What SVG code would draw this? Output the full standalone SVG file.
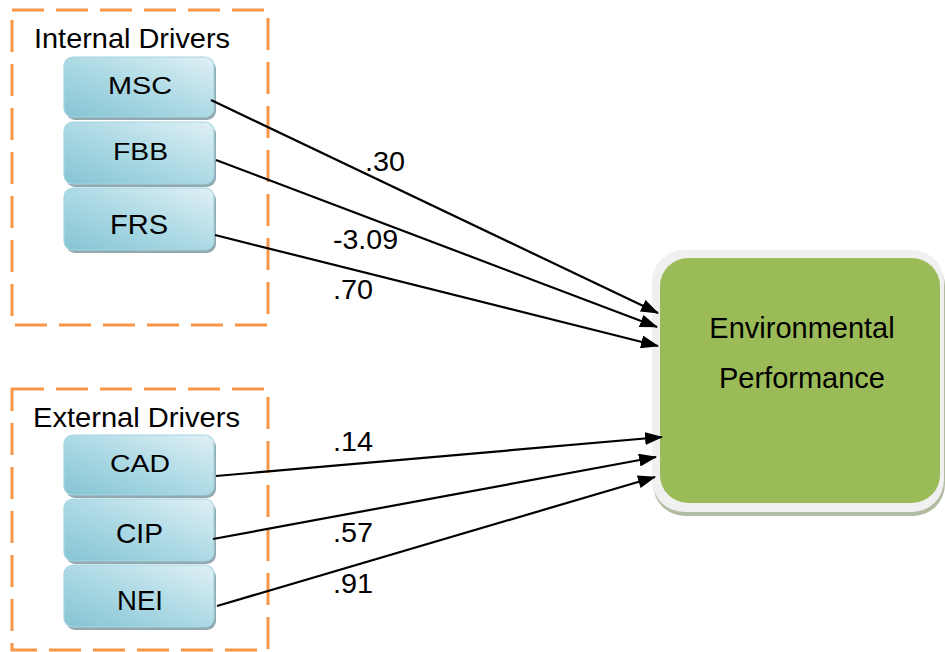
<svg xmlns="http://www.w3.org/2000/svg" width="945" height="652" viewBox="0 0 945 652">
<defs>
<linearGradient id="nodeGrad" x1="0" y1="1" x2="1" y2="0">
<stop offset="0" stop-color="#86c4d4"/>
<stop offset="0.5" stop-color="#addae5"/>
<stop offset="1" stop-color="#e0f0f5"/>
</linearGradient>
<marker id="arrow" markerUnits="userSpaceOnUse" markerWidth="18" markerHeight="13" refX="17" refY="6.5" orient="auto">
<path d="M0,0 L18,6.5 L0,13 z" fill="#000"/>
</marker>
<style>
.grp { fill: none; stroke: #f79646; stroke-width: 3; stroke-dasharray: 32 12; }
.shadow { fill: #93a9b1; }
.node { fill: url(#nodeGrad); stroke: #a3d5e2; stroke-width: 1.2; }
.lbl { font-family: "Liberation Sans", Arial, sans-serif; fill: #000; }
.nl { font-family: "Liberation Sans", Arial, sans-serif; fill: #000; text-anchor: middle; }
.edge { stroke: #000; stroke-width: 2.2; fill: none; marker-end: url(#arrow); }
</style>
</defs>
<rect width="945" height="652" fill="#fff"/>

<g id="internal-group">
<rect class="grp" x="12" y="10" width="256" height="315"/>
<text class="lbl" x="34" y="48" font-size="28.5" textLength="196" lengthAdjust="spacingAndGlyphs">Internal Drivers</text>
</g>
<g id="external-group">
<rect class="grp" x="12" y="389" width="256" height="261"/>
<text class="lbl" x="33" y="427" font-size="28.5" textLength="207" lengthAdjust="spacingAndGlyphs">External Drivers</text>
</g>

<g id="node-MSC">
<rect class="shadow" x="66" y="60" width="150" height="60" rx="9"/>
<rect class="node" x="64" y="57" width="150" height="60" rx="9"/>
<text class="nl" x="140" y="94" font-size="24" textLength="64" lengthAdjust="spacingAndGlyphs">MSC</text>
</g>
<g id="node-FBB">
<rect class="shadow" x="66" y="125" width="150" height="62" rx="9"/>
<rect class="node" x="64" y="122" width="150" height="62" rx="9"/>
<text class="nl" x="140.5" y="160" font-size="23" textLength="55" lengthAdjust="spacingAndGlyphs">FBB</text>
</g>
<g id="node-FRS">
<rect class="shadow" x="66" y="191" width="150" height="62" rx="9"/>
<rect class="node" x="64" y="188" width="150" height="62" rx="9"/>
<text class="nl" x="139" y="234" font-size="28" textLength="58" lengthAdjust="spacingAndGlyphs">FRS</text>
</g>
<g id="node-CAD">
<rect class="shadow" x="66" y="438" width="150" height="60" rx="9"/>
<rect class="node" x="64" y="435" width="150" height="60" rx="9"/>
<text class="nl" x="140" y="472" font-size="24" textLength="60" lengthAdjust="spacingAndGlyphs">CAD</text>
</g>
<g id="node-CIP">
<rect class="shadow" x="66" y="502" width="150" height="62" rx="9"/>
<rect class="node" x="64" y="499" width="150" height="62" rx="9"/>
<text class="nl" x="139.5" y="543" font-size="28" textLength="47" lengthAdjust="spacingAndGlyphs">CIP</text>
</g>
<g id="node-NEI">
<rect class="shadow" x="66" y="568" width="150" height="62" rx="9"/>
<rect class="node" x="64" y="565" width="150" height="62" rx="9"/>
<text class="nl" x="140" y="610" font-size="28" textLength="46" lengthAdjust="spacingAndGlyphs">NEI</text>
</g>

<g id="node-EP">
<rect x="653" y="254" width="292" height="262" rx="32" fill="#b1bca2"/>
<rect x="652" y="250" width="292" height="262" rx="32" fill="#f0f0f0"/>
<rect x="660" y="258" width="280" height="245" rx="28" fill="#9bbb59"/>
<text class="nl" x="802" y="338" font-size="29">Environmental</text>
<text class="nl" x="802" y="388" font-size="29">Performance</text>
</g>

<g id="connectors">
<line class="edge" x1="211" y1="100" x2="658" y2="313"/>
<line class="edge" x1="216" y1="160" x2="657" y2="327"/>
<line class="edge" x1="215" y1="235" x2="658" y2="346"/>
<line class="edge" x1="216" y1="476" x2="662" y2="437"/>
<line class="edge" x1="213" y1="539" x2="656" y2="457"/>
<line class="edge" x1="217" y1="606" x2="655" y2="477"/>
</g>

<g id="edge-labels">
<text class="lbl" x="365" y="171" font-size="28" textLength="40" lengthAdjust="spacingAndGlyphs">.30</text>
<text class="lbl" x="333" y="249" font-size="28" textLength="65" lengthAdjust="spacingAndGlyphs">-3.09</text>
<text class="lbl" x="333" y="299" font-size="28" textLength="40" lengthAdjust="spacingAndGlyphs">.70</text>
<text class="lbl" x="333" y="451" font-size="28" textLength="40" lengthAdjust="spacingAndGlyphs">.14</text>
<text class="lbl" x="333" y="542" font-size="28" textLength="40" lengthAdjust="spacingAndGlyphs">.57</text>
<text class="lbl" x="333" y="593" font-size="28" textLength="40" lengthAdjust="spacingAndGlyphs">.91</text>
</g>
</svg>
